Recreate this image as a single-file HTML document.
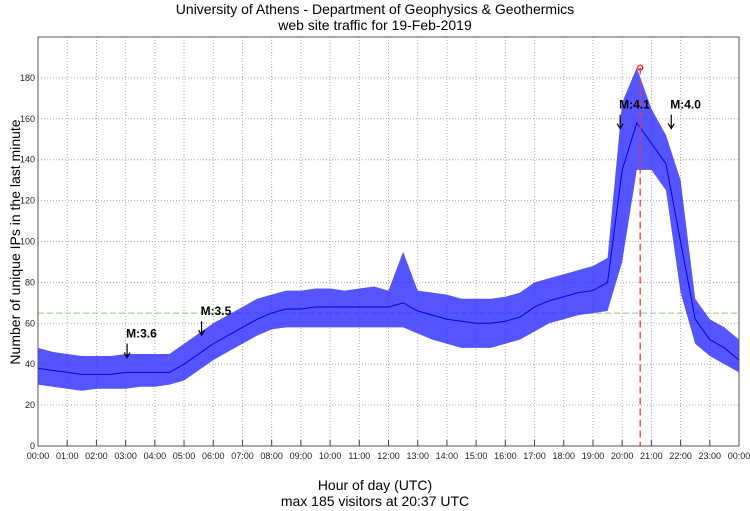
<!DOCTYPE html>
<html><head><meta charset="utf-8"><style>
body{margin:0;background:#fff;}
svg{font-family:"Liberation Sans",sans-serif;display:block}
</style></head><body>
<svg id="c" width="750" height="511">
<text x="375" y="14" text-anchor="middle" font-size="14">University of Athens - Department of Geophysics &amp; Geothermics</text>
<text x="375" y="30" text-anchor="middle" font-size="14">web site traffic for 19-Feb-2019</text>
<text x="375" y="490" text-anchor="middle" font-size="14">Hour of day (UTC)</text>
<text x="375" y="506" text-anchor="middle" font-size="14">max 185 visitors at 20:37 UTC</text>
<text transform="translate(20,242) rotate(-90)" text-anchor="middle" font-size="14">Number of unique IPs in the last minute</text>
<g id="g"></g>
</svg>
<script>
const yTicks=[0,20,40,60,80,100,120,140,160,180];
const hourLabels=["00:00","01:00","02:00","03:00","04:00","05:00","06:00","07:00","08:00","09:00","10:00","11:00","12:00","13:00","14:00","15:00","16:00","17:00","18:00","19:00","20:00","21:00","22:00","23:00","00:00"];
const halfHours=[0,0.5,1,1.5,2,2.5,3,3.5,4,4.5,5,5.5,6,6.5,7,7.5,8,8.5,9,9.5,10,10.5,11,11.5,12,12.5,13,13.5,14,14.5,15,15.5,16,16.5,17,17.5,18,18.5,19,19.5,20,20.5,21,21.5,22,22.5,23,23.5,24];
const midVals=[38,37,36,35,35,35,36,36,36,36,40,45,50,54,58,62,65,67,67,68,68,68,68,68,68,70,66,64,62,61,60,60,61,63,68,71,73,75,76,80,135,158,148,138,100,62,52,48,42];
const loVals=[30,29,28,27,28,28,28,29,29,30,32,37,42,46,50,54,57,58,58,58,58,58,58,58,58,58,55,52,50,48,48,48,50,52,56,60,62,64,65,66,90,135,135,125,75,50,44,40,36];
const hiVals=[48,46,45,44,44,44,45,45,45,45,50,55,60,64,68,72,74,76,76,77,77,76,77,78,76,95,76,75,74,72,72,72,73,75,80,82,84,86,88,92,168,185,165,152,130,72,62,58,52];
const quakes=[{t:3.05,v:53,l:"M:3.6"},{t:5.6,v:64,l:"M:3.5"},{t:19.93,v:165,l:"M:4.1"},{t:21.68,v:165,l:"M:4.0"}];
const maxT=20+37/60, maxV=185, refLine=65;
const L=38,R=739,T=37,B=446,YMAX=200;
const X=h=>L+(R-L)*h/24, Y=v=>B-(B-T)*v/YMAX;
const g=document.getElementById('g');const NS="http://www.w3.org/2000/svg";
function mk(t,a,p){const e=document.createElementNS(NS,t);for(const k in a)e.setAttribute(k,a[k]);(p||g).appendChild(e);return e;}
hourLabels.forEach((lab,i)=>{if(i>0&&i<24){const e=mk('line',{x1:X(i),x2:X(i),y1:T,y2:B,stroke:'#aaa','stroke-dasharray':'1,2'});

}
const tk=mk('line',{x1:X(i),x2:X(i),y1:B,y2:B-6,stroke:'#444'});


const t=mk('text',{x:X(i),y:B+13,'text-anchor':'middle','font-size':9,fill:'#222'});t.textContent=lab;

});
yTicks.forEach(v=>{if(v>0){const e=mk('line',{x1:L,x2:R,y1:Y(v),y2:Y(v),stroke:'#aaa','stroke-dasharray':'1,2'});

}
const t=mk('text',{x:L-3,y:Y(v)+3,'text-anchor':'end','font-size':9,fill:'#222'});t.textContent=v;

});
const rl=mk('line',{x1:L,x2:R,y1:Y(refLine),y2:Y(refLine),stroke:'#8c8','stroke-dasharray':'6,3'});


let d='M'+halfHours.map((h,i)=>X(h)+','+Y(hiVals[i])).join('L');
for(let i=halfHours.length-1;i>=0;i--)d+='L'+X(halfHours[i])+','+Y(loVals[i]);
const band=mk('path',{d:d+'Z',fill:'#2a2aff','fill-opacity':0.8});


const ln=mk('polyline',{points:halfHours.map((h,i)=>X(h)+','+Y(midVals[i])).join(' '),fill:'none',stroke:'#0000dd','stroke-width':1});


const ml=mk('line',{x1:X(maxT),x2:X(maxT),y1:Y(maxV),y2:B,stroke:'#f33','stroke-dasharray':'7,4','stroke-width':1.3});


const mc=mk('circle',{cx:X(maxT),cy:Y(maxV),r:2.5,fill:'none',stroke:'#f00','stroke-width':1.2});


quakes.forEach(q=>{const x=X(q.t),y=Y(q.v);
const a=mk('path',{d:`M${x},${y+6}V${y+20}M${x-3},${y+15}L${x},${y+20}L${x+3},${y+15}`,fill:'none',stroke:'#000','stroke-width':1.2});


const t=mk('text',{x:x-1,y:y,'font-size':12,'font-weight':'bold'});t.textContent=q.l;

});
const fr=mk('rect',{x:L,y:T,width:R-L,height:B-T,fill:'none',stroke:'#555'});


</script>
</body></html>
